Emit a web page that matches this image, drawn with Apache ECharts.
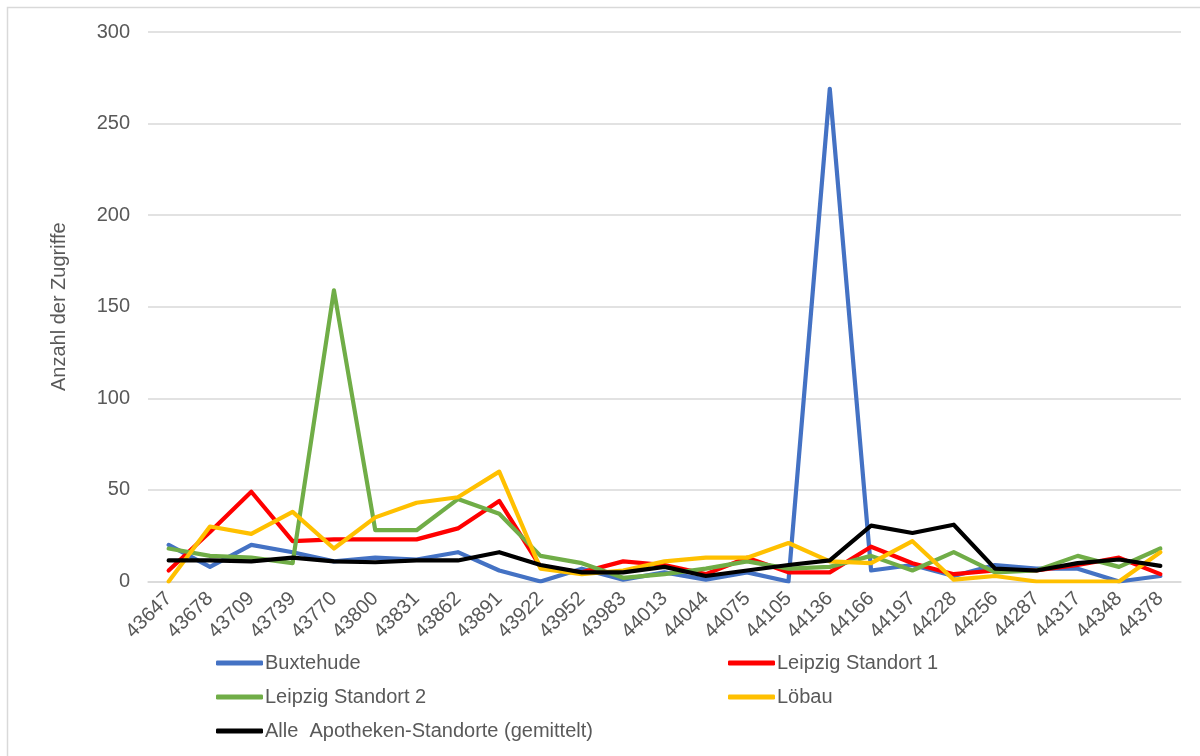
<!DOCTYPE html>
<html>
<head>
<meta charset="utf-8">
<script src="https://cdn.jsdelivr.net/npm/echarts@6/dist/echarts.min.js"></script>
<style>html,body{margin:0;padding:0;background:#fff;}#c{width:1200px;height:756px;}</style>
</head>
<body>
<div id="c"></div>
<script>
const categories = ['43647','43678','43709','43739','43770','43800','43831','43862','43891','43922','43952','43983','44013','44044','44075','44105','44136','44166','44197','44228','44256','44287','44317','44348','44378'];
const buxtehude = [20, 8, 20, 16, 11, 13, 12, 16, 6, 0, 7, 1, 5, 1, 5, 0, 269, 6, 9, 3, 9, 7, 7, 0, 3];
const leipzig1 = [6, 27, 49, 22, 23, 23, 23, 29, 44, 8, 5, 11, 9, 4, 13, 5, 5, 19, 10, 4, 6, 6, 9, 13, 4];
const leipzig2 = [18, 14, 13, 10, 159, 28, 28, 45, 37, 14, 10, 2, 4, 7, 11, 7, 8, 14, 6, 16, 5, 6, 14, 8, 18];
const loebau = [0, 30, 26, 38, 18, 35, 43, 46, 60, 7, 4, 6, 11, 13, 13, 21, 11, 10, 22, 1, 3, 0, 0, 0, 16];
const alle = [11.5, 11.5, 11, 13, 11, 10.5, 11.5, 11.5, 16, 9, 5, 5, 8, 3, 6, 9, 11.5, 30.5, 26.5, 31, 7, 6, 10, 12, 8.5];
const yTicks = [0, 50, 100, 150, 200, 250, 300];

const FONT = '"Liberation Sans", Arial, sans-serif';
const TXT = '#595959';
const FS = 20;
const chart = echarts.init(document.getElementById('c'), null, {renderer: 'canvas'});

function line(name, data, color) {
  return {
    name, type: 'line', data, symbol: 'none', smooth: false,
    lineStyle: {color, width: 4.2, cap: 'round', join: 'round'},
    itemStyle: {color},
    emphasis: {disabled: true}
  };
}

chart.setOption({
  animation: false,
  backgroundColor: '#fff',
  graphic: [{
    type: 'rect', shape: {x: 7.5, y: 7.5, width: 1200, height: 800},
    style: {fill: 'none', stroke: '#D9D9D9', lineWidth: 1.5}, silent: true
  }],
  grid: {left: 148, right: 19, top: 32, bottom: 174.5, containLabel: false},
  xAxis: {
    type: 'category', data: categories, boundaryGap: true,
    axisLine: {show: true, lineStyle: {color: '#D9D9D9', width: 1.5}},
    axisTick: {show: false},
    axisLabel: {rotate: 45, margin: 14, color: TXT, fontSize: FS, fontFamily: FONT, interval: 0}
  },
  yAxis: {
    type: 'value', min: yTicks[0], max: yTicks[yTicks.length - 1], interval: 50,
    name: 'Anzahl der Zugriffe', nameLocation: 'middle', nameGap: 79, nameRotate: 90,
    nameTextStyle: {color: TXT, fontSize: FS, fontFamily: FONT},
    axisLine: {show: false}, axisTick: {show: false},
    axisLabel: {margin: 18, color: TXT, fontSize: FS, fontFamily: FONT},
    splitLine: {lineStyle: {color: '#D9D9D9', width: 1.5}}
  },
  legend: [{
    orient: 'vertical', left: 216, top: 653, padding: 0, itemGap: 14, itemWidth: 47, itemHeight: 5,
    icon: 'roundRect',
    data: ['Buxtehude', 'Leipzig Standort 2', 'Alle  Apotheken-Standorte (gemittelt)'],
    textStyle: {color: TXT, fontSize: FS, fontFamily: FONT, lineHeight: 20, padding: [0, 0, 0, -3]}
  }, {
    orient: 'vertical', left: 728, top: 653, padding: 0, itemGap: 14, itemWidth: 47, itemHeight: 5,
    icon: 'roundRect',
    data: ['Leipzig Standort 1', 'Löbau'],
    textStyle: {color: TXT, fontSize: FS, fontFamily: FONT, lineHeight: 20, padding: [0, 0, 0, -3]}
  }],
  series: [
    line('Buxtehude', buxtehude, '#4472C4'),
    line('Leipzig Standort 1', leipzig1, '#FF0000'),
    line('Leipzig Standort 2', leipzig2, '#70AD47'),
    line('Löbau', loebau, '#FFC000'),
    line('Alle  Apotheken-Standorte (gemittelt)', alle, '#000000')
  ]
});
</script>
</body>
</html>
